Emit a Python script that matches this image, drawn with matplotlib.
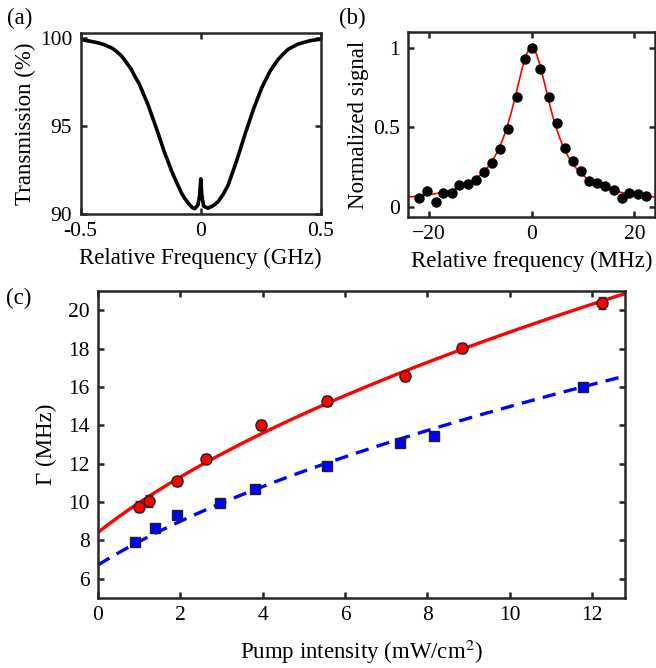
"""
Three-panel spectroscopy figure: Doppler dip, Lorentzian line and power broadening.
"""

import matplotlib
matplotlib.use("Agg")
import matplotlib.pyplot as plt
import numpy as np

plt.rcParams["font.family"] = ["Liberation Serif", "DejaVu Serif"]
plt.rcParams["mathtext.fontset"] = "stix"

# (a) transmission trace
freq_a = [-0.5, -0.4625, -0.43, -0.40, -0.37, -0.352, -0.33, -0.31, -0.29,
          -0.2725, -0.255, -0.22, -0.185, -0.15, -0.115, -0.08, -0.0667,
          -0.046, -0.035, -0.025, -0.012, -0.005, 0.0, 0.005, 0.012, 0.03,
          0.051, 0.072, 0.093, 0.114, 0.148, 0.183, 0.218, 0.253, 0.288,
          0.322, 0.343, 0.364, 0.385, 0.405, 0.433, 0.454, 0.5]
trans_a = [99.93, 99.84, 99.75, 99.63, 99.45, 99.27, 99.0, 98.64, 98.25,
           97.8, 97.38, 96.24, 94.9, 93.48, 92.24, 91.19, 90.89,
           90.52, 90.37, 90.3, 90.5, 91.0, 92.0, 91.0, 90.45, 90.33,
           90.47, 90.7, 91.11, 91.65, 92.98, 94.49, 95.92, 97.16, 98.13,
           98.8, 99.11, 99.38, 99.53, 99.67, 99.78, 99.86, 99.95]

# (b) normalized signal points
freq_b = [-21.86, -20.26, -18.65, -17.11, -15.50, -14.02, -12.41, -10.80,
          -9.20, -7.59, -6.05, -4.50, -2.89, -1.35, 0.13, 1.74, 3.34, 4.95,
          6.50, 8.04, 9.65, 11.19, 12.73, 14.34, 15.95, 17.49, 19.04, 20.64,
          22.19]
signal_b = [0.055, 0.101, 0.031, 0.086, 0.088, 0.134, 0.140, 0.168, 0.220,
            0.277, 0.365, 0.488, 0.688, 0.933, 1.0, 0.870, 0.688, 0.524,
            0.369, 0.287, 0.226, 0.159, 0.149, 0.128, 0.103, 0.052, 0.084,
            0.082, 0.069]
# Lorentzian fit (offset, amplitude, FWHM in MHz)
fit_b = (0.025, 0.975, 9.3)

# (c) linewidth vs pump intensity
pump_red = [0.99, 1.24, 1.92, 2.63, 3.97, 5.56, 7.45, 8.83, 12.25]
gamma_red = [9.76, 10.05, 11.08, 12.27, 14.03, 15.28, 16.55, 18.04, 20.38]
err_red = [0.3, 0.3, 0.25, 0.25, 0.25, 0.25, 0.25, 0.25, 0.3]
pump_blue = [0.91, 1.38, 1.92, 2.97, 3.82, 5.56, 7.33, 8.16, 11.79]
gamma_blue = [7.9, 8.63, 9.32, 9.95, 10.68, 11.89, 13.09, 13.44, 15.99]
err_blue = [0.15, 0.15, 0.2, 0.15, 0.15, 0.15, 0.15, 0.15, 0.15]
# power-broadening fits: gamma0 * sqrt(1 + I / Isat)
fit_red = (8.42, 2.49)
fit_blue = (6.72, 2.52)

SPINE = "#262626"


def style_axes(ax):
    for sp in ax.spines.values():
        sp.set_linewidth(1.8)
        sp.set_color(SPINE)
    ax.tick_params(direction="in", length=4, width=1.8, color=SPINE,
                   top=True, right=True, labelsize=15.5, pad=6)


fig = plt.figure(figsize=(6.56, 6.68), dpi=100)
W, H = 656, 668


def add_ax(l, t, r, b):
    return fig.add_axes([l / W, 1 - b / H, (r - l) / W, (b - t) / H])


# panel (a)
ax_a = add_ax(80.5, 33, 321, 214)
ax_a.plot(freq_a, trans_a, color="black", lw=2.6, solid_joinstyle="round")
ax_a.set_xlim(-0.5, 0.5)
ax_a.set_ylim(90, 100.3)
ax_a.set_xticks([-0.5, 0, 0.5])
ax_a.set_xticklabels(["-0.5", "0", "0.5"])
ax_a.set_yticks([90, 95, 100])
ax_a.set_xlabel("Relative Frequency (GHz)", fontsize=16.5, labelpad=5)
ax_a.set_ylabel("Transmission (%)", fontsize=16.5, labelpad=3)
style_axes(ax_a)

# panel (b)
ax_b = add_ax(408, 32, 655, 217)
xf = np.linspace(-24, 24, 400)
off, amp, fwhm = fit_b
ax_b.plot(xf, off + amp / (1 + (2 * xf / fwhm) ** 2), color="red", lw=1.2)
ax_b.plot(freq_b, signal_b, "o", color="black", ms=6.5)
ax_b.set_xlim(-24, 24)
ax_b.set_ylim(-0.065, 1.1)
ax_b.set_xticks([-20, 0, 20])
ax_b.set_yticks([0, 0.5, 1])
ax_b.set_yticklabels(["0", "0.5", "1"])
ax_b.set_xlabel("Relative frequency (MHz)", fontsize=16.5, labelpad=5)
ax_b.set_ylabel("Normalized signal", fontsize=16.5, labelpad=3)
style_axes(ax_b)

# panel (c)
ax_c = add_ax(98, 291, 625, 598)
xi = np.linspace(0, 12.8, 300)
g0, isat = fit_red
ax_c.plot(xi, g0 * np.sqrt(1 + xi / isat), color="red", lw=2.4, zorder=2)
g0, isat = fit_blue
ax_c.plot(xi, g0 * np.sqrt(1 + xi / isat), color="blue", lw=2.4,
          dashes=(4, 2.5), zorder=2)
ax_c.errorbar(pump_red, gamma_red, yerr=err_red, fmt="o", ms=8,
              mfc="red", mec="#222222", mew=1, ecolor="#333333",
              elinewidth=1, capsize=3, zorder=3)
ax_c.errorbar(pump_blue, gamma_blue, yerr=err_blue, fmt="s", ms=6.5,
              mfc="blue", mec="#222222", mew=1, ecolor="#333333",
              elinewidth=1, capsize=3, zorder=3)
ax_c.set_xlim(0, 12.8)
ax_c.set_ylim(5, 21)
ax_c.set_xticks(range(0, 13, 2))
ax_c.set_yticks(range(6, 21, 2))
ax_c.set_xlabel("Pump intensity (mW/cm$^{2}$)", fontsize=16.5, labelpad=9)
ax_c.set_ylabel("Γ (MHz)", fontsize=16.5, labelpad=8)
style_axes(ax_c)

fig.text(20 / W, 1 - 18 / H, "(a)", fontsize=16.5, ha="center", va="center")
fig.text(352 / W, 1 - 18 / H, "(b)", fontsize=16.5, ha="center", va="center")
fig.text(19 / W, 1 - 298 / H, "(c)", fontsize=16.5, ha="center", va="center")

fig.savefig("out.png", dpi=100)
